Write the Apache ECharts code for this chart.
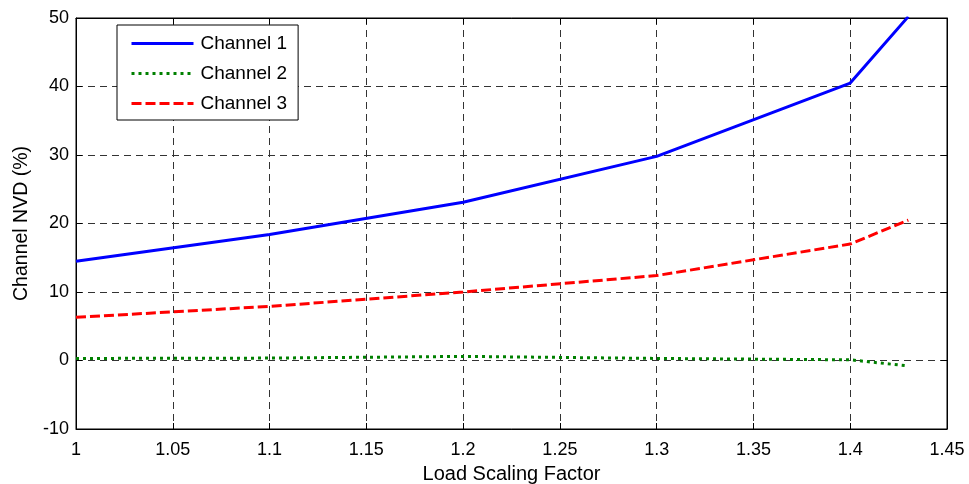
<!DOCTYPE html>
<html>
<head>
<meta charset="utf-8">
<script src="https://cdn.jsdelivr.net/npm/echarts@6/dist/echarts.min.js"></script>
<style>
  html, body { margin: 0; padding: 0; background: #fff; }
  #chart { width: 969px; height: 484px; }
</style>
</head>
<body>
<div id="chart"></div>
<script>
// load scaling factor samples
const loadFactor = [1.0, 1.1, 1.2, 1.3, 1.4, 1.43]
// channel NVD values (%)
const channel1 = [14.5, 18.4, 23.1, 29.8, 40.5, 50.2]
const channel2 = [0.3, 0.35, 0.6, 0.3, 0.1, -0.8]
const channel3 = [6.3, 7.9, 10.0, 12.4, 17.0, 20.5]
const seriesNames = ['Channel 1', 'Channel 2', 'Channel 3']

const font = 'Liberation Sans, Arial, sans-serif'
const pairs = (ys) => loadFactor.map((x, i) => [x, ys[i]])

const gridLine = {
  show: true,
  lineStyle: { color: '#333', type: [7, 5], width: 1 }
}
const frameTick = { show: true, inside: true, length: 6, lineStyle: { color: '#000' } }

const chart = echarts.init(document.getElementById('chart'))
chart.setOption({
  animation: false,
  backgroundColor: '#fff',
  grid: {
    left: 76, right: 22, top: 18, bottom: 55,
    outerBoundsMode: 'none',
    containLabel: false,
    show: true, borderColor: '#000', borderWidth: 1
  },
  legend: {
    orient: 'vertical',
    left: 117, top: 25,
    backgroundColor: '#fff',
    borderColor: '#000',
    borderWidth: 1,
    padding: [9, 11, 7, 13],
    itemWidth: 62,
    itemHeight: 14,
    itemGap: 11,
    textStyle: { fontFamily: font, fontSize: 19, color: '#000', padding: [0, 0, 0, 2] },
    itemStyle: { opacity: 0 },
    lineStyle: { width: 3 },
    data: seriesNames
  },
  xAxis: [{
    type: 'value',
    min: 1, max: 1.45, interval: 0.05,
    name: 'Load Scaling Factor',
    nameLocation: 'middle',
    nameGap: 35,
    nameTextStyle: { fontFamily: font, fontSize: 20, color: '#000' },
    axisLine: { show: true, onZero: false, lineStyle: { color: '#000', width: 1 } },
    axisTick: frameTick,
    axisLabel: {
      fontFamily: font, fontSize: 18, color: '#000', margin: 12,
      formatter: (v) => String(+v.toFixed(2))
    },
    splitLine: gridLine
  }, {
    type: 'value', position: 'top',
    min: 1, max: 1.45, interval: 0.05,
    axisLine: { show: true, onZero: false, lineStyle: { color: '#000' } },
    axisTick: frameTick,
    axisLabel: { show: false },
    splitLine: { show: false }
  }],
  yAxis: [{
    type: 'value',
    min: -10, max: 50, interval: 10,
    name: 'Channel NVD (%)',
    nameLocation: 'middle',
    nameGap: 43,
    nameTextStyle: { fontFamily: font, fontSize: 19.5, color: '#000' },
    axisLine: { show: true, onZero: false, lineStyle: { color: '#000', width: 1 } },
    axisTick: frameTick,
    axisLabel: { fontFamily: font, fontSize: 18, color: '#000', margin: 7 },
    splitLine: gridLine
  }, {
    type: 'value', position: 'right',
    min: -10, max: 50, interval: 10,
    axisLine: { show: true, onZero: false, lineStyle: { color: '#000' } },
    axisTick: frameTick,
    axisLabel: { show: false },
    splitLine: { show: false }
  }],
  series: [
    {
      name: seriesNames[0], type: 'line', data: pairs(channel1),
      showSymbol: false, symbol: 'none', clip: true,
      lineStyle: { color: '#0000ff', width: 3, type: 'solid' },
      itemStyle: { color: '#0000ff' }
    },
    {
      name: seriesNames[1], type: 'line', data: pairs(channel2),
      showSymbol: false, symbol: 'none', clip: true,
      lineStyle: { color: '#008000', width: 3, type: [3, 4] },
      itemStyle: { color: '#008000' }
    },
    {
      name: seriesNames[2], type: 'line', data: pairs(channel3),
      showSymbol: false, symbol: 'none', clip: true,
      lineStyle: { color: '#ff0000', width: 3, type: [10, 4] },
      itemStyle: { color: '#ff0000' }
    }
  ]
})
</script>
</body>
</html>
